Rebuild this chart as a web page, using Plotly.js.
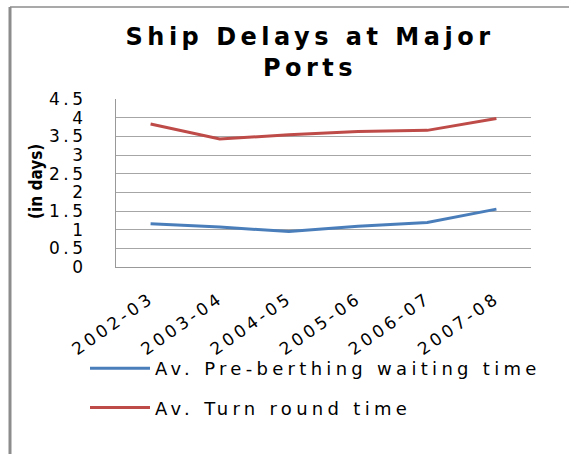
<!DOCTYPE html>
<html>
<head>
<meta charset="utf-8">
<script src="https://cdn.plot.ly/plotly-3.0.1.min.js"></script>
<style>
html,body{margin:0;padding:0;background:#fff;}
#chart{width:569px;height:454px;}
#chart .xtick text, #chart .ytick text{letter-spacing:3.5px;}
#chart .legendtext{letter-spacing:4.3px;}
#chart .legend .scrollbox, #chart .legend{clip-path:none !important;}
#chart .gtitle{letter-spacing:4.5px;}
</style>
</head>
<body>
<div id="chart"></div>
<script>
var categories = ["2002-03","2003-04","2004-05","2005-06","2006-07","2007-08"];
var preBerthing = [1.16, 1.07, 0.95, 1.09, 1.19, 1.55];
var turnRound = [3.83, 3.43, 3.54, 3.63, 3.66, 3.98];
var yTicks = [0, 0.5, 1, 1.5, 2, 2.5, 3, 3.5, 4, 4.5];
var seriesNames = ["Av. Pre-berthing waiting time", "Av. Turn round time"];
var titleText = "Ship Delays at Major<br>Ports";
var yTitle = "(in days)";

var W = 569, H = 454;
var mL = 116, mR = 38, mT = 99, mB = 187;
var pw = W - mL - mR, ph = H - mT - mB;
function px2x(p){ return (p - mL) / pw; }
function py2y(p){ return (H - mB - p) / ph; }

var traces = [
  {x: categories, y: preBerthing, name: seriesNames[0], type: 'scatter', mode: 'lines',
   line: {color: '#4a7ebb', width: 3}, legendgroup: 'a'},
  {x: categories, y: turnRound, name: seriesNames[1], type: 'scatter', mode: 'lines',
   line: {color: '#be4b48', width: 3}, legendgroup: 'b'}
];

var axisFont = {family: 'DejaVu Sans', size: 17, color: '#000'};

var layout = {
  width: W, height: H,
  margin: {l: mL, r: mR, t: mT, b: mB, pad: 0},
  paper_bgcolor: '#fff', plot_bgcolor: '#fff',
  showlegend: true,
  title: {text: titleText, font: {family: 'DejaVu Sans', size: 24, color: '#000', weight: 'bold'},
          x: px2x(310), xref: 'paper', xanchor: 'center', y: 1 - 45/H, yref: 'container', yanchor: 'top'},
  xaxis: {type: 'category', range: [-0.5, categories.length - 0.5], tickangle: -35, tickfont: axisFont,
          showgrid: false, showline: true, linecolor: '#999', linewidth: 1, ticks: '',
          ticklabelstandoff: 14, fixedrange: true},
  yaxis: {range: [0, 4.5], tickvals: yTicks, ticktext: yTicks.map(String), tickfont: axisFont,
          showgrid: true, gridcolor: '#a6a6a6', gridwidth: 1, zeroline: false,
          showline: true, linecolor: '#999', linewidth: 1, ticks: '', ticklabelstandoff: 25,
          fixedrange: true},
  legend: {x: px2x(85), xanchor: 'left', y: py2y(350), yanchor: 'top', orientation: 'v',
           font: {family: 'DejaVu Sans', size: 18, color: '#000'}, tracegroupgap: 13,
           itemwidth: 60, bgcolor: 'rgba(0,0,0,0)'},
  annotations: [
    {text: yTitle, textangle: -90, xref: 'paper', yref: 'paper', x: px2x(36), y: py2y(182),
     xanchor: 'center', yanchor: 'middle', showarrow: false,
     font: {family: 'Liberation Sans Narrow, DejaVu Sans Condensed', size: 17, color: '#000', weight: 'bold'}}
  ],
  shapes: [
    {type: 'line', xref: 'paper', yref: 'paper', x0: px2x(10), x1: px2x(10), y0: py2y(7), y1: py2y(454),
     line: {color: '#8c8c8c', width: 3}},
    {type: 'line', xref: 'paper', yref: 'paper', x0: px2x(10), x1: px2x(569), y0: py2y(7), y1: py2y(7),
     line: {color: '#8c8c8c', width: 1.5}}
  ]
};

Plotly.newPlot('chart', traces, layout, {displayModeBar: false, staticPlot: true});
</script>
</body>
</html>
